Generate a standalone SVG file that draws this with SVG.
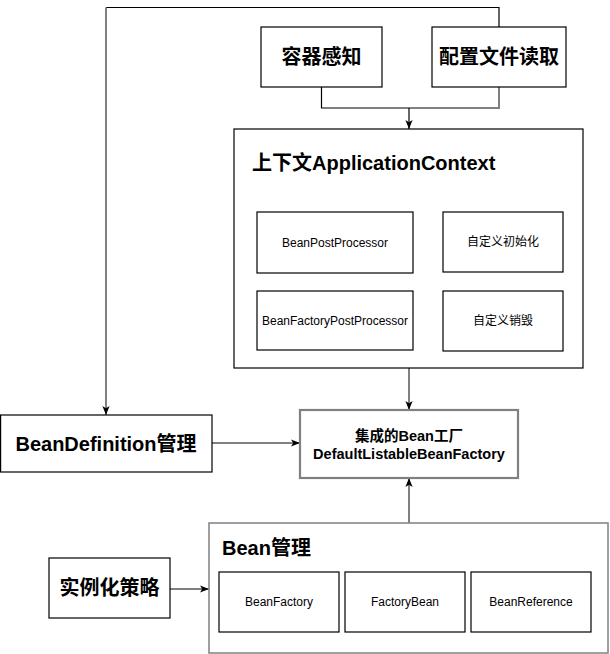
<svg xmlns="http://www.w3.org/2000/svg" width="610" height="654" viewBox="0 0 610 654">
<style>
.box{fill:#fff;stroke:#000;stroke-width:1.2}
.gbox{fill:#fff;stroke:#808080;stroke-width:1.5}
.dbox{fill:#fff;stroke:#808080;stroke-width:2.2}
.big{font-family:"Liberation Sans","Noto Sans CJK SC",sans-serif;font-weight:bold;font-size:20px;fill:#000}
.mid{font-family:"Liberation Sans","Noto Sans CJK SC",sans-serif;font-weight:bold;font-size:14.5px;fill:#000}
.sm{font-family:"Liberation Sans","Noto Sans CJK SC",sans-serif;font-size:12px;fill:#000}
.c{text-anchor:middle;dominant-baseline:central}
.lk{fill:none;stroke:#000;stroke-width:1.2}
.lg{fill:none;stroke:#808080;stroke-width:2}
</style>
<defs>
<marker id="arr" markerUnits="userSpaceOnUse" viewBox="0 0 10 10" refX="10" refY="5" markerWidth="9" markerHeight="9" orient="auto">
<path d="M0,1 L10,5 L0,9 L2.5,5 Z" fill="#000"/>
</marker>
</defs>
<g id="connectors">
<polyline class="lk" points="499,27 499,7.5 106,7.5"/>
<polyline class="lg" points="106,7.5 106,415" marker-end="url(#arr)"/>
<polyline class="lk" points="321.5,87 321.5,108 409,108"/>
<polyline class="lg" points="499,87 499,108 409,108"/>
<polyline class="lk" points="409,108 409,129" marker-end="url(#arr)"/>
<polyline class="lg" points="409,368 409,410" marker-end="url(#arr)"/>
<polyline class="lg" points="212,443 300,443" marker-end="url(#arr)"/>
<polyline class="lg" points="409,523 409,478" marker-end="url(#arr)"/>
<polyline class="lk" points="170,589 209,589" marker-end="url(#arr)"/>
</g>
<g id="rongqi">
<rect class="box" x="261" y="27" width="121" height="60"/>
<text class="big c" x="321.5" y="57">容器感知</text>
</g>
<g id="peizhi">
<rect class="box" x="432" y="27" width="134" height="60"/>
<text class="big c" x="499" y="57">配置文件读取</text>
</g>
<g id="context">
<rect class="box" x="234" y="129" width="349" height="239"/>
<text class="big" x="252" y="170">上下文ApplicationContext</text>
</g>
<g id="beanPostProcessor">
<rect class="box" x="257" y="212" width="156" height="61"/>
<text class="sm c" x="335" y="242.5">BeanPostProcessor</text>
</g>
<g id="customInit">
<rect class="box" x="443" y="212" width="120" height="60"/>
<text class="sm c" x="503" y="242">自定义初始化</text>
</g>
<g id="beanFactoryPostProcessor">
<rect class="box" x="257" y="291" width="156" height="59"/>
<text class="sm c" x="335" y="320.5">BeanFactoryPostProcessor</text>
</g>
<g id="customDestroy">
<rect class="box" x="443" y="291" width="120" height="60"/>
<text class="sm c" x="503" y="321">自定义销毁</text>
</g>
<g id="defaultFactory">
<rect class="dbox" x="300" y="410" width="218" height="68"/>
<text class="mid c" x="409" y="436">集成的Bean工厂</text>
<text class="mid c" x="409" y="454">DefaultListableBeanFactory</text>
</g>
<g id="beanDefinition">
<rect class="box" x="0.6" y="415" width="211.4" height="57"/>
<text class="big c" x="106" y="443.5">BeanDefinition管理</text>
</g>
<g id="instantiation">
<rect class="box" x="49" y="558" width="121" height="60"/>
<text class="big c" x="109.5" y="588">实例化策略</text>
</g>
<g id="beanManage">
<rect class="gbox" x="209" y="523" width="399" height="130"/>
<text class="big" x="222" y="555">Bean管理</text>
</g>
<g id="beanFactory">
<rect class="box" x="219" y="572" width="120" height="60"/>
<text class="sm c" x="279" y="602">BeanFactory</text>
</g>
<g id="factoryBean">
<rect class="box" x="345" y="572" width="120" height="60"/>
<text class="sm c" x="405" y="602">FactoryBean</text>
</g>
<g id="beanReference">
<rect class="box" x="471" y="572" width="120" height="60"/>
<text class="sm c" x="531" y="602">BeanReference</text>
</g>
</svg>
